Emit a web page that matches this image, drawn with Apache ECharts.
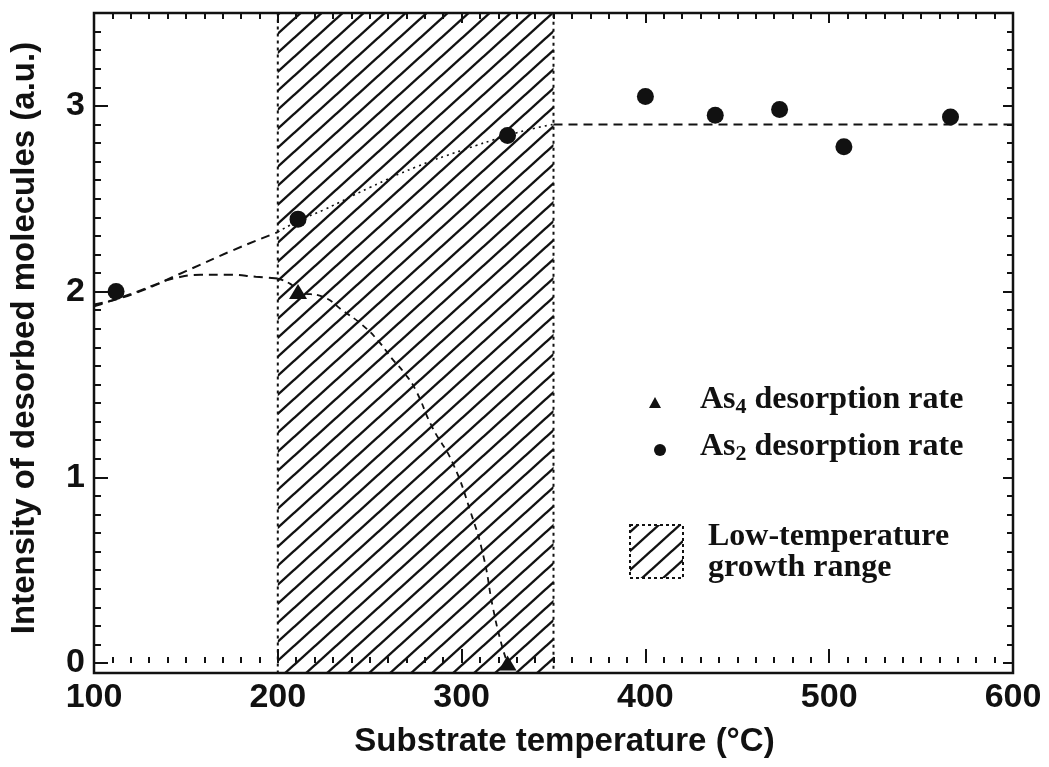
<!DOCTYPE html>
<html>
<head>
<meta charset="utf-8">
<script src="https://cdn.jsdelivr.net/npm/echarts@6/dist/echarts.min.js"></script>
<style>
  html, body { margin: 0; padding: 0; background: #fff; }
  #chart { width: 1049px; height: 767px; }
</style>
</head>
<body>
<div id="chart"></div>
<script>
// Measured desorption rates (substrate temperature in °C, intensity in a.u.)
const as2Temp = [112, 211, 325, 400, 438, 473, 508, 566];
const as2Rate = [2.00, 2.39, 2.84, 3.05, 2.95, 2.98, 2.78, 2.94];
const as4Temp = [211, 325];
const as4Rate = [2.00, 0.00];

// Guide curves through the measurements
const as2FitTemp = [100, 122, 150, 175, 200, 211, 225, 250, 275, 300, 325, 340, 350, 600];
const as2FitRate = [1.93, 1.99, 2.11, 2.22, 2.32, 2.38, 2.44, 2.56, 2.67, 2.76, 2.84, 2.88, 2.90, 2.90];
const as4FitTemp = [100, 121, 134, 143, 158, 174, 188, 200, 207, 211, 225, 235, 246, 255, 262, 269, 275, 284, 295, 305, 312, 317, 322, 325];
const as4FitRate = [1.92, 1.99, 2.04, 2.07, 2.09, 2.09, 2.08, 2.07, 2.04, 2.00, 1.97, 1.90, 1.82, 1.73, 1.64, 1.56, 1.47, 1.27, 1.08, 0.81, 0.57, 0.30, 0.09, 0.00];

// Low-temperature growth window
const lowTempRange = [200, 350];

// Axis ticks
const xTicks = { min: 100, max: 600, step: 100 };
const yTicks = { min: 0, max: 3.5, step: 1, minorStep: 0.1 };
const yDataMin = -0.054;

const INK = '#111';
const SANS = '"Liberation Sans", Arial, Helvetica, sans-serif';
const SERIF = '"Liberation Serif", "Times New Roman", serif';

function hatchPattern() {
  const w = 21, h = 19;
  const c = document.createElement('canvas');
  c.width = w; c.height = h;
  const ctx = c.getContext('2d');
  ctx.strokeStyle = INK;
  ctx.lineWidth = 2.4;
  for (let k = -1; k <= 1; k++) {
    ctx.beginPath();
    ctx.moveTo(-1, h + k * h + h / w);
    ctx.lineTo(w + 1, k * h - h / w);
    ctx.stroke();
  }
  return { image: c, repeat: 'repeat' };
}
const hatch = hatchPattern();

function pairs(xs, ys) { return xs.map((x, i) => [x, ys[i]]); }
function segment(xs, ys, lo, hi) {
  return pairs(xs, ys).filter(p => p[0] >= lo && p[0] <= hi);
}

const dashed = { color: INK, width: 2, type: [9, 6] };
const dotted = { color: INK, width: 1.6, type: [2, 4] };
const shortDash = { color: INK, width: 1.8, type: [6, 5] };
const tickStyle = { color: INK, width: 2 };

const legendRich = {
  a: { fontFamily: SERIF, fontWeight: 'bold', fontSize: 32, fill: INK, lineHeight: 36 },
  s: { fontFamily: SERIF, fontWeight: 'bold', fontSize: 22, fill: INK, lineHeight: 24, verticalAlign: 'bottom' }
};

const chart = echarts.init(document.getElementById('chart'), null, { renderer: 'canvas' });

const option = {
  animation: false,
  backgroundColor: '#fff',
  grid: [
    { left: 94, right: 36, top: 13, bottom: 94, show: true, borderColor: INK, borderWidth: 2.5, backgroundColor: 'transparent' },
    { left: 94, right: 36, top: 13, bottom: 104, show: false }
  ],
  xAxis: [
    {
      gridIndex: 0, type: 'value', position: 'bottom',
      min: xTicks.min, max: xTicks.max, interval: xTicks.step,
      axisLine: { show: false },
      axisTick: { inside: true, length: 14, lineStyle: tickStyle },
      minorTick: { show: true, splitNumber: 10, length: 6, lineStyle: tickStyle },
      splitLine: { show: false },
      axisLabel: { color: INK, fontFamily: SANS, fontWeight: 'bold', fontSize: 34, margin: 8 },
      name: 'Substrate temperature (°C)',
      nameLocation: 'middle', nameGap: 52,
      nameTextStyle: { color: INK, fontFamily: SANS, fontWeight: 'bold', fontSize: 33, padding: [0, 0, 0, 22] }
    },
    {
      gridIndex: 0, type: 'value', position: 'top',
      min: xTicks.min, max: xTicks.max, interval: xTicks.step,
      axisLine: { show: false },
      axisTick: { inside: true, length: 10, lineStyle: tickStyle },
      minorTick: { show: true, splitNumber: 10, length: 6, lineStyle: tickStyle },
      splitLine: { show: false },
      axisLabel: { show: false }
    },
    { gridIndex: 1, type: 'value', min: xTicks.min, max: xTicks.max, show: false }
  ],
  yAxis: [
    { gridIndex: 0, type: 'value', min: yDataMin, max: yTicks.max, show: false },
    {
      gridIndex: 1, type: 'value', position: 'left',
      min: yTicks.min, max: yTicks.max, interval: yTicks.step,
      axisLine: { show: false },
      axisTick: { inside: true, length: 13, lineStyle: tickStyle },
      splitLine: { show: false },
      axisLabel: {
        color: INK, fontFamily: SANS, fontWeight: 'bold', fontSize: 34, margin: 10,
        formatter: v => (Number.isInteger(v) ? String(v) : '')
      },
      name: 'Intensity of desorbed molecules (a.u.)',
      nameLocation: 'middle', nameGap: 54,
      nameTextStyle: { color: INK, fontFamily: SANS, fontWeight: 'bold', fontSize: 33 }
    },
    {
      gridIndex: 1, type: 'value', position: 'left',
      min: yTicks.min, max: yTicks.max, interval: yTicks.minorStep,
      axisLine: { show: false },
      axisTick: { inside: true, length: 6, lineStyle: tickStyle },
      splitLine: { show: false }, axisLabel: { show: false }
    },
    {
      gridIndex: 1, type: 'value', position: 'right',
      min: yTicks.min, max: yTicks.max, interval: yTicks.step,
      axisLine: { show: false },
      axisTick: { inside: true, length: 10, lineStyle: tickStyle },
      splitLine: { show: false }, axisLabel: { show: false }
    },
    {
      gridIndex: 1, type: 'value', position: 'right',
      min: yTicks.min, max: yTicks.max, interval: yTicks.minorStep,
      axisLine: { show: false },
      axisTick: { inside: true, length: 6, lineStyle: tickStyle },
      splitLine: { show: false }, axisLabel: { show: false }
    }
  ],
  series: [
    {
      name: 'window', type: 'line', xAxisIndex: 0, yAxisIndex: 0,
      data: [], silent: true, z: 1,
      markArea: {
        silent: true,
        itemStyle: { color: hatch, borderColor: INK, borderWidth: 2, borderType: [3, 4] },
        data: [[{ xAxis: lowTempRange[0] }, { xAxis: lowTempRange[1] }]]
      }
    },
    {
      name: 'As2 fit low', type: 'line', xAxisIndex: 0, yAxisIndex: 0, z: 3,
      data: segment(as2FitTemp, as2FitRate, xTicks.min, lowTempRange[0]),
      smooth: true, showSymbol: false, lineStyle: dashed
    },
    {
      name: 'As2 fit window', type: 'line', xAxisIndex: 0, yAxisIndex: 0, z: 3,
      data: segment(as2FitTemp, as2FitRate, lowTempRange[0], lowTempRange[1]),
      smooth: true, showSymbol: false, lineStyle: dotted
    },
    {
      name: 'As2 fit high', type: 'line', xAxisIndex: 0, yAxisIndex: 0, z: 3,
      data: segment(as2FitTemp, as2FitRate, lowTempRange[1], xTicks.max),
      showSymbol: false, lineStyle: dashed
    },
    {
      name: 'As4 fit low', type: 'line', xAxisIndex: 0, yAxisIndex: 0, z: 3,
      data: segment(as4FitTemp, as4FitRate, xTicks.min, lowTempRange[0]),
      smooth: true, showSymbol: false, lineStyle: dashed
    },
    {
      name: 'As4 fit window', type: 'line', xAxisIndex: 0, yAxisIndex: 0, z: 3,
      data: segment(as4FitTemp, as4FitRate, lowTempRange[0], lowTempRange[1]),
      smooth: true, showSymbol: false, lineStyle: shortDash
    },
    {
      name: 'As2 desorption rate', type: 'scatter', xAxisIndex: 0, yAxisIndex: 0, z: 5,
      data: pairs(as2Temp, as2Rate),
      symbol: 'circle', symbolSize: 17, itemStyle: { color: INK, opacity: 1 }
    },
    {
      name: 'As4 desorption rate', type: 'scatter', xAxisIndex: 0, yAxisIndex: 0, z: 5,
      data: pairs(as4Temp, as4Rate),
      symbol: 'triangle', symbolSize: [18, 15], itemStyle: { color: INK, opacity: 1 }
    }
  ],
  graphic: [
    { type: 'polygon', shape: { points: [[655, 397], [661, 408], [649, 408]] }, style: { fill: INK } },
    { type: 'circle', shape: { cx: 660, cy: 450, r: 6 }, style: { fill: INK } },
    {
      type: 'text', left: 700, top: 384,
      style: { text: '{a|As}{s|4}{a| desorption rate}', rich: legendRich }
    },
    {
      type: 'text', left: 700, top: 431,
      style: { text: '{a|As}{s|2}{a| desorption rate}', rich: legendRich }
    },
    {
      type: 'rect', shape: { x: 630, y: 525, width: 53, height: 53 },
      style: { fill: hatch, stroke: INK, lineWidth: 2, lineDash: [3, 3] }
    },
    {
      type: 'text', left: 708, top: 521,
      style: {
        text: 'Low-temperature\ngrowth range',
        fontFamily: SERIF, fontWeight: 'bold', fontSize: 32, fill: INK, lineHeight: 31
      }
    }
  ]
};

chart.setOption(option);
</script>
</body>
</html>
